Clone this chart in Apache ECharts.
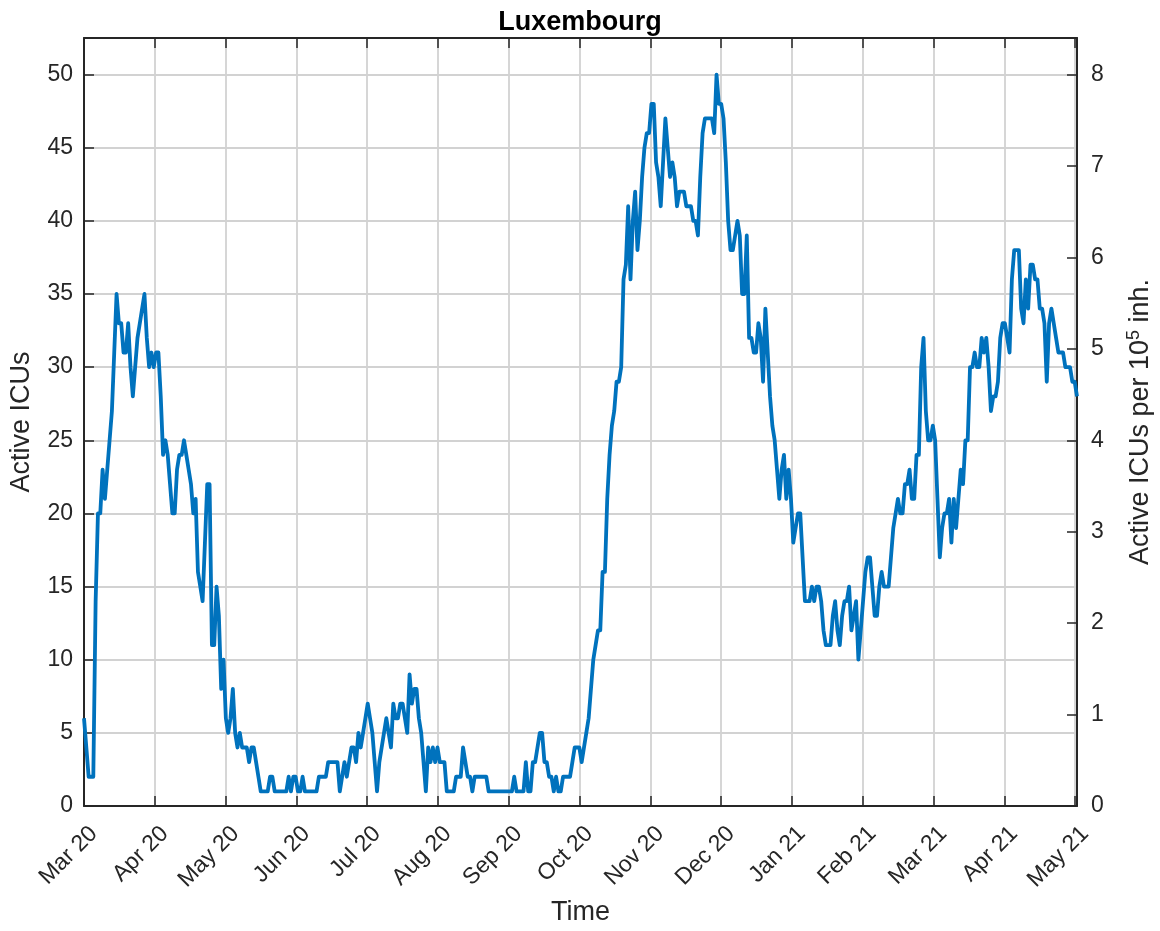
<!DOCTYPE html>
<html>
<head>
<meta charset="utf-8">
<script src="https://cdn.jsdelivr.net/npm/echarts@6/dist/echarts.min.js"></script>
<style>
  html, body { margin: 0; padding: 0; background: #ffffff; }
  #chart { width: 1160px; height: 931px; }
</style>
</head>
<body>
<div id="chart"></div>
<script>
// Month tick labels (evenly spaced ticks, one per average month)
const tickLabels = ['Mar 20', 'Apr 20', 'May 20', 'Jun 20', 'Jul 20', 'Aug 20', 'Sep 20',
  'Oct 20', 'Nov 20', 'Dec 20', 'Jan 21', 'Feb 21', 'Mar 21', 'Apr 21', 'May 21'];
const tickSpacingDays = 30.44;

// Daily active ICU counts, Luxembourg, starting 1 Mar 2020
const icuCounts = [
  6, 4, 2, 2, 2, 14, 20, 20, 23, 21,
  23, 25, 27, 31, 35, 33, 33, 31, 31, 33,
  30, 28, 30, 32, 33, 34, 35, 32, 30, 31,
  30, 31, 31, 28, 24, 25, 24, 22, 20, 20,
  23, 24, 24, 25, 24, 23, 22, 20, 21, 16,
  15, 14, 18, 22, 22, 11, 11, 15, 13, 8,
  10, 6, 5, 6, 8, 5, 4, 5, 4, 4,
  4, 3, 4, 4, 3, 2, 1, 1, 1, 1,
  2, 2, 1, 1, 1, 1, 1, 1, 2, 1,
  2, 2, 1, 1, 2, 1, 1, 1, 1, 1,
  1, 2, 2, 2, 2, 3, 3, 3, 3, 3,
  1, 2, 3, 2, 3, 4, 4, 3, 5, 4,
  5, 6, 7, 6, 5, 3, 1, 3, 4, 5,
  6, 5, 4, 7, 6, 6, 7, 7, 6, 5,
  9, 7, 8, 8, 6, 5, 3, 1, 4, 3,
  4, 3, 4, 3, 3, 3, 1, 1, 1, 1,
  2, 2, 2, 4, 3, 2, 2, 1, 2, 2,
  2, 2, 2, 2, 1, 1, 1, 1, 1, 1,
  1, 1, 1, 1, 1, 2, 1, 1, 1, 1,
  3, 1, 1, 3, 3, 4, 5, 5, 3, 3,
  2, 2, 1, 2, 1, 1, 2, 2, 2, 2,
  3, 4, 4, 4, 3, 4, 5, 6, 8, 10,
  11, 12, 12, 16, 16, 21, 24, 26, 27, 29,
  29, 30, 36, 37, 41, 36, 40, 42, 38, 40,
  43, 45, 46, 46, 48, 48, 44, 43, 41, 44,
  47, 45, 43, 44, 43, 41, 42, 42, 42, 41,
  41, 41, 40, 40, 39, 43, 46, 47, 47, 47,
  47, 46, 50, 48, 48, 47, 44, 40, 38, 38,
  39, 40, 39, 35, 35, 39, 32, 32, 31, 31,
  33, 32, 29, 34, 31, 28, 26, 25, 23, 21,
  23, 24, 21, 23, 21, 18, 19, 20, 20, 17,
  14, 14, 14, 15, 14, 15, 15, 14, 12, 11,
  11, 11, 13, 14, 12, 11, 13, 14, 14, 15,
  12, 13, 14, 10, 12, 14, 16, 17, 17, 15,
  13, 13, 15, 16, 15, 15, 15, 17, 19, 20,
  21, 20, 20, 22, 22, 23, 21, 21, 24, 24,
  30, 32, 27, 25, 25, 26, 25, 21, 17, 19,
  20, 20, 21, 18, 21, 19, 21, 23, 22, 25,
  25, 30, 30, 31, 30, 30, 32, 31, 32, 30,
  27, 28, 28, 29, 32, 33, 33, 32, 31, 36,
  38, 38, 38, 34, 33, 36, 34, 37, 37, 36,
  36, 34, 34, 33, 29, 33, 34, 33, 32, 31,
  31, 31, 30, 30, 30, 29, 29, 28
];

// Active ICUs per 1 unit of "per 10^5 inhabitants"
const icusPerUnitRate = 6.25;
const leftMax = 52.5;
const leftTicks = [0, 5, 10, 15, 20, 25, 30, 35, 40, 45, 50];
const rightTicks = [0, 1, 2, 3, 4, 5, 6, 7, 8];

const FONT = 'Liberation Sans, Arial, Helvetica, sans-serif';
const INK = '#262626';
const GRID = '#d2d2d2';

const chart = echarts.init(document.getElementById('chart'), null, { renderer: 'canvas' });

const seriesData = icuCounts.map((v, i) => [i, v]);
const lastDay = icuCounts.length - 1;

function monthLabel(v) {
  const k = Math.round(v / tickSpacingDays);
  if (Math.abs(v - k * tickSpacingDays) > 0.05) return '';
  return tickLabels[k] || '';
}

const commonTick = { show: true, inside: true, length: 10, lineStyle: { color: INK, width: 1.5 } };

chart.setOption({
  animation: false,
  backgroundColor: '#ffffff',
  title: {
    text: 'Luxembourg',
    left: 'center',
    top: 4,
    textStyle: { fontFamily: FONT, fontSize: 27, fontWeight: 'bold', color: '#000' }
  },
  grid: { left: 84, right: 83, top: 38, bottom: 125, containLabel: false, outerBoundsMode: 'none' },
  xAxis: [{
    type: 'value',
    position: 'bottom',
    min: 0,
    max: lastDay,
    interval: tickSpacingDays,
    name: 'Time',
    nameLocation: 'middle',
    nameGap: 93,
    nameTextStyle: { fontFamily: FONT, fontSize: 27, color: INK },
    axisLine: { show: true, onZero: false, lineStyle: { color: INK, width: 2 } },
    axisTick: commonTick,
    axisLabel: {
      rotate: 45, margin: 34, padding: [0, -14, 0, 0],
      fontFamily: FONT, fontSize: 23, color: INK,
      formatter: monthLabel, showMinLabel: true, showMaxLabel: true, hideOverlap: false
    },
    splitLine: { show: true, lineStyle: { color: GRID, width: 1.8 } }
  }, {
    type: 'value',
    position: 'top',
    min: 0,
    max: lastDay,
    interval: tickSpacingDays,
    axisLine: { show: true, onZero: false, lineStyle: { color: INK, width: 2 } },
    axisTick: commonTick,
    axisLabel: { show: false },
    splitLine: { show: false }
  }],
  yAxis: [{
    type: 'value',
    position: 'left',
    min: 0,
    max: leftMax,
    interval: 5,
    name: 'Active ICUs',
    nameLocation: 'middle',
    nameGap: 49,
    nameRotate: 90,
    nameTextStyle: { fontFamily: FONT, fontSize: 27, color: INK },
    axisLine: { show: true, onZero: false, lineStyle: { color: INK, width: 2 } },
    axisTick: commonTick,
    axisLabel: {
      margin: 11, fontFamily: FONT, fontSize: 23, color: INK,
      formatter: v => (leftTicks.indexOf(v) >= 0 ? String(v) : '')
    },
    splitLine: { show: true, lineStyle: { color: GRID, width: 1.8 } }
  }, {
    type: 'value',
    position: 'right',
    min: 0,
    max: leftMax / icusPerUnitRate,
    interval: 1,
    name: '{n|Active ICUs per 10}{s|5}{n| inh.}',
    nameLocation: 'middle',
    nameGap: 48,
    nameRotate: 90,
    nameTextStyle: {
      fontFamily: FONT, fontSize: 27, color: INK,
      rich: {
        n: { fontFamily: FONT, fontSize: 27, color: INK, lineHeight: 32, verticalAlign: 'middle' },
        s: { fontFamily: FONT, fontSize: 18, color: INK, lineHeight: 14, verticalAlign: 'top' }
      }
    },
    axisLine: { show: true, onZero: false, lineStyle: { color: INK, width: 2 } },
    axisTick: commonTick,
    axisLabel: {
      margin: 14, fontFamily: FONT, fontSize: 23, color: INK,
      formatter: v => (rightTicks.indexOf(v) >= 0 ? String(v) : '')
    },
    splitLine: { show: false }
  }],
  series: [{
    type: 'line',
    xAxisIndex: 0,
    yAxisIndex: 0,
    data: seriesData,
    showSymbol: false,
    symbol: 'none',
    lineStyle: { color: '#0072BD', width: 3.8, join: 'round' },
    clip: true,
    z: 3
  }]
});
</script>
</body>
</html>
